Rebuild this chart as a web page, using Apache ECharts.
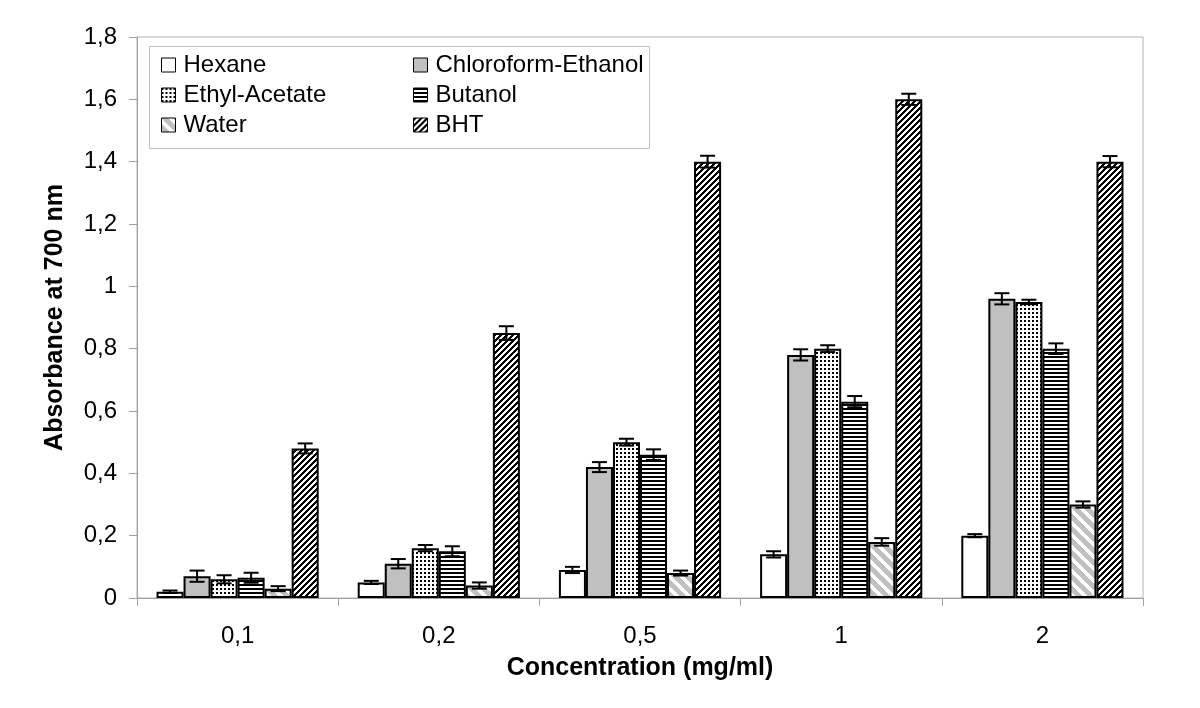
<!DOCTYPE html>
<html>
<head>
<meta charset="utf-8">
<script src="https://cdn.jsdelivr.net/npm/echarts@6/dist/echarts.min.js"></script>
<style>
html,body{margin:0;padding:0;background:#fff;}
#chart{width:1200px;height:708px;}
</style>
</head>
<body>
<div id="chart"></div>
<script>
// ---- data ----
const categories = ['0,1', '0,2', '0,5', '1', '2'];
const seriesNames = ['Hexane', 'Chloroform-Ethanol', 'Ethyl-Acetate', 'Butanol', 'Water', 'BHT'];
const hexane   = [0.02, 0.05, 0.09, 0.14, 0.20];
const chlEth   = [0.07, 0.11, 0.42, 0.78, 0.96];
const ethylAc  = [0.06, 0.16, 0.50, 0.80, 0.95];
const butanol  = [0.065, 0.15, 0.46, 0.63, 0.80];
const water    = [0.03, 0.04, 0.08, 0.18, 0.30];
const bht      = [0.48, 0.85, 1.40, 1.60, 1.40];
const hexaneErr  = [0.004, 0.005, 0.010, 0.010, 0.005];
const chlEthErr  = [0.018, 0.015, 0.016, 0.018, 0.018];
const ethylAcErr = [0.013, 0.010, 0.011, 0.011, 0.007];
const butanolErr = [0.016, 0.016, 0.017, 0.018, 0.017];
const waterErr   = [0.008, 0.010, 0.008, 0.012, 0.010];
const bhtErr     = [0.016, 0.022, 0.019, 0.018, 0.018];
const yTicks = { min: 0, max: 1.8, interval: 0.2 };

const values = [hexane, chlEth, ethylAc, butanol, water, bht];
const errors = [hexaneErr, chlEthErr, ethylAcErr, butanolErr, waterErr, bhtErr];

// ---- patterns ----
function makePattern(w, h, fn) {
  const c = document.createElement('canvas');
  c.width = w; c.height = h;
  const ctx = c.getContext('2d');
  const img = ctx.createImageData(w, h);
  for (let y = 0; y < h; y++) {
    for (let x = 0; x < w; x++) {
      const v = fn(x, y);
      const i = (y * w + x) * 4;
      img.data[i] = v; img.data[i + 1] = v; img.data[i + 2] = v; img.data[i + 3] = 255;
    }
  }
  ctx.putImageData(img, 0, 0);
  return { image: c, repeat: 'repeat' };
}
const fills = [
  '#ffffff',
  '#c0c0c0',
  makePattern(4, 4, (x, y) => (x % 4 < 2 && y % 4 < 2) ? 0 : 255),
  makePattern(4, 4, (x, y) => (y % 4 < 2) ? 0 : 255),
  makePattern(12, 12, (x, y) => (((x - y) % 12 + 12) % 12 < 7) ? 192 : 255),
  makePattern(6, 6, (x, y) => ((x + y) % 6 < 3) ? 0 : 255)
];

const GAP = 0.194;
const FONT = 'Liberation Sans, Arial, sans-serif';

const barSeries = seriesNames.map((name, i) => ({
  name: name,
  type: 'bar',
  data: values[i],
  barGap: '0%',
  barCategoryGap: (GAP * 100) + '%',
  itemStyle: { color: fills[i], borderColor: '#000', borderWidth: 2 },
  z: 2
}));

const errData = [];
for (let s = 0; s < values.length; s++) {
  for (let c = 0; c < categories.length; c++) {
    errData.push([c, s, values[s][c], errors[s][c]]);
  }
}

const errSeries = {
  type: 'custom',
  name: 'errors',
  z: 5,
  encode: { x: 0, y: 2 },
  data: errData,
  renderItem: function (params, api) {
    const cat = api.value(0), si = api.value(1), v = api.value(2), e = api.value(3);
    const catW = api.size([1, 0])[0];
    const barW = catW * (1 - GAP) / 6;
    const cx = api.coord([cat, v])[0] + (si - 2.5) * barW;
    const yT = api.coord([cat, v + e])[1];
    const yB = api.coord([cat, v - e])[1];
    const hw = 7.5;
    const st = { stroke: '#000', lineWidth: 2 };
    return {
      type: 'group',
      children: [
        { type: 'line', shape: { x1: cx, y1: yT, x2: cx, y2: yB }, style: st },
        { type: 'line', shape: { x1: cx - hw, y1: yT, x2: cx + hw, y2: yT }, style: st },
        { type: 'line', shape: { x1: cx - hw, y1: yB, x2: cx + hw, y2: yB }, style: st }
      ]
    };
  }
};

const legendCommon = {
  orient: 'vertical',
  top: 53,
  padding: 0,
  itemGap: 6,
  itemWidth: 14,
  itemHeight: 14,
  icon: 'rect',
  itemStyle: { borderColor: '#000', borderWidth: 1 },
  textStyle: { fontFamily: FONT, fontSize: 24, color: '#000', lineHeight: 24, padding: [0, 0, 0, 3] }
};

const chart = echarts.init(document.getElementById('chart'), null, { renderer: 'canvas' });
chart.setOption({
  animation: false,
  backgroundColor: '#fff',
  grid: { left: 137, right: 57, top: 37, bottom: 110, show: true, borderColor: '#b4b4b4', borderWidth: 1 },
  legend: [
    Object.assign({}, legendCommon, { left: 161, data: ['Hexane', 'Ethyl-Acetate', 'Water'] }),
    Object.assign({}, legendCommon, { left: 413, data: ['Chloroform-Ethanol', 'Butanol', 'BHT'] })
  ],
  graphic: [{
    type: 'rect', left: 149, top: 46, z: -1,
    shape: { width: 500, height: 102 },
    style: { fill: '#fff', stroke: '#c0c0c0', lineWidth: 1 }
  }],
  xAxis: {
    type: 'category',
    data: categories,
    boundaryGap: true,
    name: 'Concentration (mg/ml)',
    nameLocation: 'middle',
    nameGap: 58,
    nameTextStyle: { fontFamily: FONT, fontSize: 25, fontWeight: 'bold', color: '#000' },
    axisLine: { lineStyle: { color: '#a0a0a0', width: 1 } },
    axisTick: { show: true, length: 8, lineStyle: { color: '#a0a0a0' } },
    axisLabel: { fontFamily: FONT, fontSize: 24, color: '#000', margin: 26 },
    splitLine: { show: false }
  },
  yAxis: {
    type: 'value',
    min: yTicks.min, max: yTicks.max, interval: yTicks.interval,
    name: 'Absorbance at 700 nm',
    nameLocation: 'middle',
    nameGap: 69,
    nameTextStyle: { fontFamily: FONT, fontSize: 25, fontWeight: 'bold', color: '#000' },
    axisLine: { show: true, lineStyle: { color: '#a0a0a0', width: 1 } },
    axisTick: { show: true, length: 8, lineStyle: { color: '#a0a0a0' } },
    axisLabel: {
      fontFamily: FONT, fontSize: 24, color: '#000', margin: 20,
      formatter: v => String(Math.round(v * 10) / 10).replace('.', ',')
    },
    splitLine: { show: false }
  },
  series: barSeries.concat([errSeries])
});
</script>
</body>
</html>
